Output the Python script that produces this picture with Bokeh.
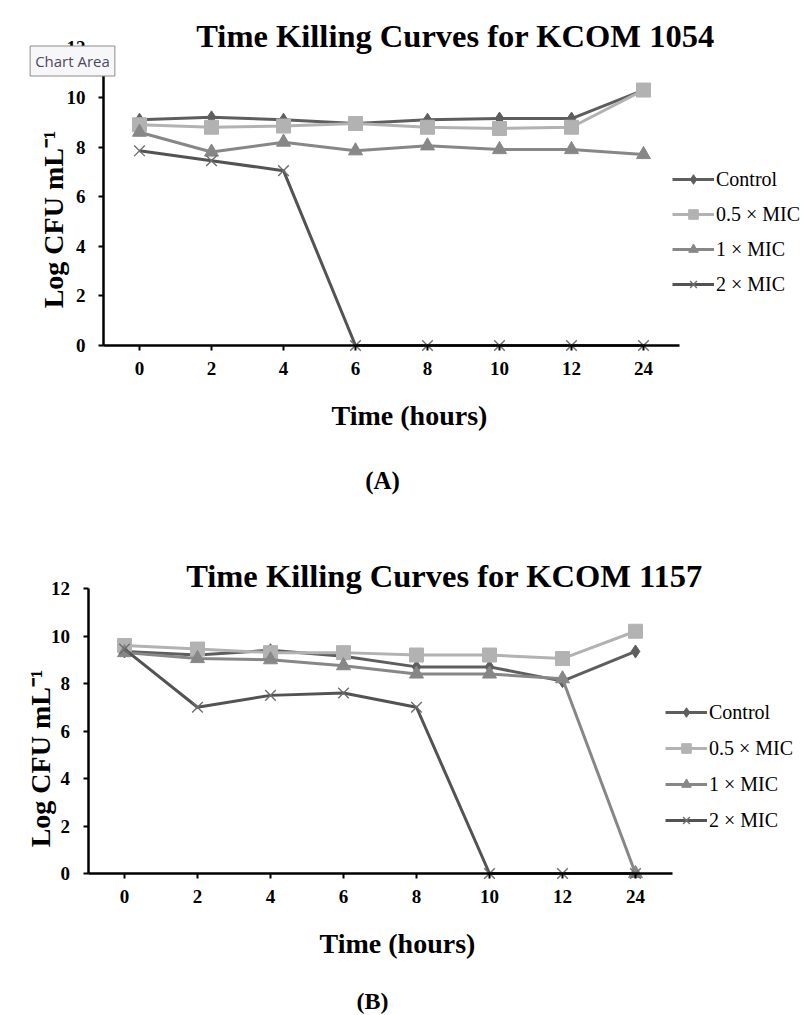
import math
from bokeh.plotting import figure
from bokeh.models import Range1d, FixedTicker, Label, Legend, LegendItem, LinearAxis
from bokeh.layouts import column
from bokeh.embed import file_html
from bokeh.resources import INLINE

# ---------------- data ----------------
times = ["0", "2", "4", "6", "8", "10", "12", "24"]
series_names = ["Control", "0.5 × MIC", "1 × MIC", "2 × MIC"]
y_ticks = [0, 2, 4, 6, 8, 10, 12]

a_control = [9.1, 9.2, 9.1, 8.95, 9.1, 9.15, 9.15, 10.3]
a_half = [8.9, 8.8, 8.85, 8.95, 8.8, 8.75, 8.8, 10.3]
a_one = [8.6, 7.8, 8.2, 7.85, 8.05, 7.9, 7.9, 7.7]
a_two = [7.85, 7.45, 7.05, 0, 0, 0, 0, 0]

b_control = [9.35, 9.2, 9.4, 9.15, 8.7, 8.7, 8.1, 9.35]
b_half = [9.6, 9.45, 9.3, 9.3, 9.2, 9.2, 9.05, 10.2]
b_one = [9.3, 9.05, 9.0, 8.75, 8.4, 8.4, 8.2, 0]
b_two = [9.45, 7.0, 7.5, 7.6, 7.0, 0, 0, 0]

title_a = "Time Killing Curves for KCOM 1054"
title_b = "Time Killing Curves for KCOM 1157"
y_title = "Log CFU mL⁻¹"
x_title = "Time (hours)"

# ---------------- styles ----------------
SERIF = "Liberation Serif"
colors = ["#5e5e5e", "#b2b2b2", "#878787", "#535353"]
markers = ["diamond", "square", "triangle", "x"]
msizes = [13, 14, 14, 15]
FIG_W = 800
PAGE_L = 0


def make_panel(series, fig_h, page_top, x0px, xstep, y0px, ystep, legend_loc, legend_spacing):
    """x0px/y0px: page pixel of category 0 / value 0; xstep/ystep: px per unit."""
    xs = list(range(len(times)))
    x_start = (PAGE_L - x0px) / xstep
    x_end = (PAGE_L + FIG_W - x0px) / xstep
    y_end = (y0px - page_top) / ystep
    y_start = (y0px - (page_top + fig_h)) / ystep

    p = figure(title=None, frame_width=FIG_W, frame_height=fig_h,
               min_border=0, x_axis_location=None, y_axis_location=None,
               x_range=Range1d(x_start, x_end), y_range=Range1d(y_start, y_end),
               output_backend="svg", toolbar_location=None)
    p.xgrid.visible = False
    p.ygrid.visible = False
    p.outline_line_color = None
    p.background_fill_color = "white"
    p.border_fill_color = "white"

    xa = LinearAxis(ticker=FixedTicker(ticks=xs),
                    major_label_overrides={i: t for i, t in enumerate(times)},
                    fixed_location=0, bounds=(-0.5, len(times) - 0.5))
    ya = LinearAxis(ticker=FixedTicker(ticks=y_ticks), fixed_location=-0.5,
                    bounds=(0, 12))
    for ax in (xa, ya):
        ax.axis_line_width = 2.5
        ax.axis_line_color = "black"
        ax.major_tick_line_width = 2
        ax.major_tick_line_color = "black"
        ax.major_tick_in = 0
        ax.major_tick_out = 5
        ax.minor_tick_line_color = None
        ax.major_label_text_font = SERIF
        ax.major_label_text_font_style = "bold"
        ax.major_label_text_font_size = "19px"
        ax.major_label_text_color = "black"
    xa.major_label_standoff = 11
    ya.major_label_standoff = 13
    p.add_layout(xa, "below")
    p.add_layout(ya, "left")

    items = []
    for name, vals, c, m, s in zip(series_names, series, colors, markers, msizes):
        lr = p.line(xs, vals, line_width=3, line_color=c)
        if m == "x":
            sr = p.scatter(xs, vals, marker=m, size=s, line_color="#6e6e6e", line_width=1.4)
        else:
            sr = p.scatter(xs, vals, marker=m, size=s, fill_color=c, line_color=c)
        items.append(LegendItem(label=name, renderers=[lr, sr]))

    lg = Legend(items=items, location=legend_loc, orientation="vertical",
                padding=0, margin=0, spacing=legend_spacing, glyph_width=42,
                glyph_height=24, label_height=24, label_standoff=2,
                label_text_font=SERIF, label_text_font_size="20px",
                label_text_color="black", border_line_color=None,
                background_fill_alpha=0)
    p.add_layout(lg)

    def fx(px):
        return (px - x0px) / xstep

    def fy(py):
        return (y0px - py) / ystep

    def lab(text, px, py, size, align="center", baseline="alphabetic", angle=0.0,
            style="bold"):
        p.add_layout(Label(x=fx(px), y=fy(py), text=text, text_font=SERIF,
                           text_font_size=size, text_font_style=style,
                           text_align=align, text_baseline=baseline,
                           angle=angle, text_color="black"))

    return p, lab, fx, fy


# ---- panel A: page y 0..510 ----
A_H = 510
A_TOP = 0
pa, lab_a, fxa, fya = make_panel([a_control, a_half, a_one, a_two], A_H, A_TOP,
                                 139, 72, 345, 24.8, (672, A_TOP + A_H - 296), 11)
lab_a(title_a, 455, 35, "32.5px")
lab_a(y_title, 53, 219, "28px", angle=math.pi / 2)
lab_a(x_title, 409, 415, "28px")
lab_a("(A)", 382, 480, "25px")
pa.add_layout(Label(x=fxa(72), y=fya(60.5), text="Chart Area", text_font="Open Sans",
                    text_font_size="15px", text_color="#4a4a5c", text_align="center",
                    text_baseline="middle", background_fill_color="#f7f7fa",
                    border_line_color="#8c8c8c", padding=5))

# ---- panel B: page y 510..1015 ----
B_H = 505
B_TOP = A_TOP + A_H
pb, lab_b, fxb, fyb = make_panel([b_control, b_half, b_one, b_two], B_H, B_TOP,
                                 124, 73, 873, 23.75, (665, B_TOP + B_H - 832), 12)
lab_b(title_b, 444, 575, "32.5px")
lab_b(y_title, 40, 758, "28px", angle=math.pi / 2)
lab_b(x_title, 397, 943, "28px")
lab_b("(B)", 372, 1000, "24px")

layout = column(pa, pb, spacing=0)
open("out.html", "w").write(file_html(layout, INLINE))
